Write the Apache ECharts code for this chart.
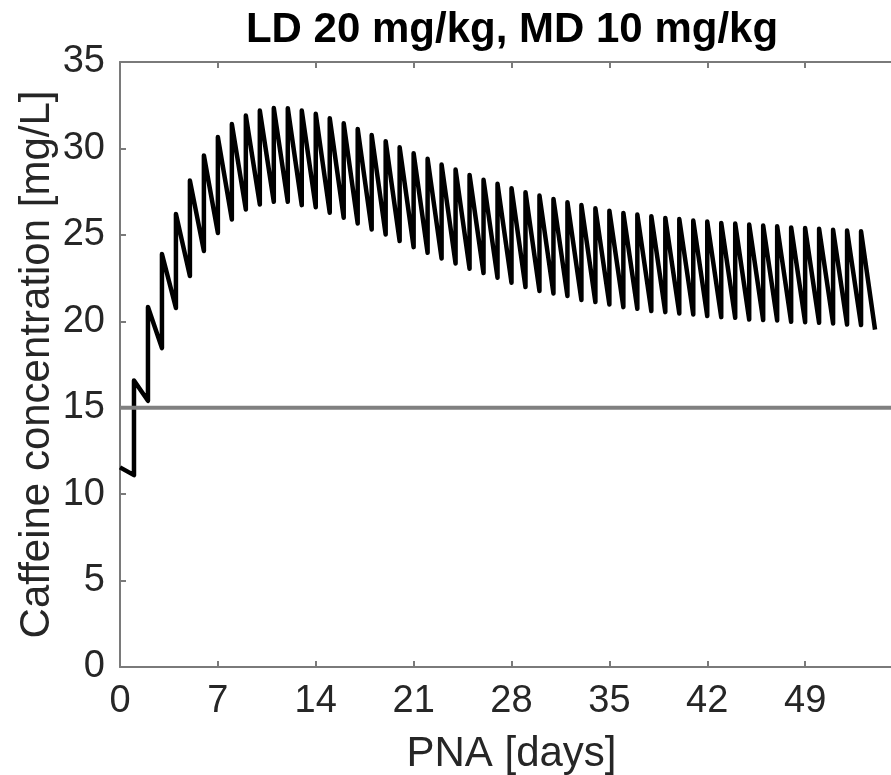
<!DOCTYPE html>
<html>
<head>
<meta charset="utf-8">
<script src="https://cdn.jsdelivr.net/npm/echarts@6/dist/echarts.min.js"></script>
<style>
html,body{margin:0;padding:0;background:#fff;}
#chart{width:891px;height:775px;}
</style>
</head>
<body>
<div id="chart"></div>
<script>
// ---- data ----
const titleText = 'LD 20 mg/kg, MD 10 mg/kg';
const xLabel = 'PNA [days]';
const yLabel = 'Caffeine concentration [mg/L]';
const xTicks = [0, 7, 14, 21, 28, 35, 42, 49, 56];
const yTicks = [0, 5, 10, 15, 20, 25, 30, 35];
const threshold = 15;
const startDay = 0;
const startConc = 11.55;
// dose days (jump times)
const doseDays = [1,2,3,4,5,6,7,8,9,10,11,12,13,14,15,16,17,18,19,20,21,22,23,24,25,26,27,28,29,30,31,32,33,34,35,36,37,38,39,40,41,42,43,44,45,46,47,48,49,50,51,52,53];
// concentration just before each dose
const troughs = [11.1,15.4,18.45,20.77,22.62,24.07,25.11,25.89,26.47,26.76,26.91,26.91,26.72,26.6,26.28,25.99,25.66,25.31,25.02,24.64,24.29,23.96,23.63,23.34,23.04,22.79,22.52,22.23,21.98,21.75,21.61,21.46,21.23,21.11,20.97,20.82,20.72,20.59,20.53,20.45,20.39,20.3,20.24,20.2,20.1,20.07,20.05,19.97,19.95,19.91,19.87,19.81,19.78];
// concentration right after each dose
const peaks = [16.57,20.83,23.89,26.2,28.14,29.59,30.66,31.41,31.9,32.19,32.34,32.33,32.19,32.0,31.75,31.46,31.13,30.78,30.42,30.07,29.72,29.4,29.07,28.78,28.47,28.19,27.95,27.7,27.47,27.28,27.08,26.89,26.73,26.54,26.4,26.27,26.18,26.08,25.98,25.92,25.83,25.77,25.69,25.65,25.6,25.54,25.5,25.43,25.39,25.35,25.29,25.25,25.21];
const endDay = 54;
const endConc = 19.52;

// ---- build series ----
const conc = [[startDay, startConc]];
for (let i = 0; i < doseDays.length; i++) {
  conc.push([doseDays[i], troughs[i]]);
  conc.push([doseDays[i], peaks[i]]);
}
conc.push([endDay, endConc]);
const xMin = xTicks[0], xMax = xTicks[xTicks.length - 1];
const yMin = yTicks[0], yMax = yTicks[yTicks.length - 1];

const FONT = '"Liberation Sans", Arial, Helvetica, sans-serif';
const axisColor = '#7a7a7a';
const textColor = '#262626';

const chart = echarts.init(document.getElementById('chart'), null, {renderer: 'canvas'});
const plotLeft = 120, plotTop = 62, plotWidth = 783, plotHeight = 605;

chart.setOption({
  animation: false,
  backgroundColor: '#fff',
  grid: {left: plotLeft, top: plotTop, width: plotWidth, height: plotHeight, containLabel: false, outerBoundsMode: 'none'},
  graphic: [{
    type: 'text', x: 512, y: 30, z: 10,
    style: {text: titleText, fill: '#000', fontFamily: FONT, fontWeight: 'bold', fontSize: 42, align: 'center', verticalAlign: 'middle'}
  }],
  xAxis: [{
    type: 'value', min: xMin, max: xMax, interval: 7, position: 'bottom',
    axisLine: {show: true, onZero: false, lineStyle: {color: axisColor, width: 2}},
    axisTick: {show: true, inside: true, length: 6, lineStyle: {color: axisColor, width: 2}},
    axisLabel: {show: true, showMaxLabel: false, margin: 16, color: textColor, fontFamily: FONT, fontSize: 38},
    splitLine: {show: false},
    name: xLabel, nameLocation: 'middle', nameGap: 66, nameMoveOverlap: false,
    nameTextStyle: {color: textColor, fontFamily: FONT, fontSize: 42}
  }, {
    type: 'value', min: xMin, max: xMax, interval: 7, position: 'top',
    axisLine: {show: true, onZero: false, lineStyle: {color: axisColor, width: 2}},
    axisTick: {show: true, inside: true, length: 6, lineStyle: {color: axisColor, width: 2}},
    axisLabel: {show: false},
    splitLine: {show: false}
  }],
  yAxis: [{
    type: 'value', min: yMin, max: yMax, interval: 5,
    axisLine: {show: true, onZero: false, lineStyle: {color: axisColor, width: 2}},
    axisTick: {show: true, inside: true, length: 6, lineStyle: {color: axisColor, width: 2}},
    axisLabel: {show: true, margin: 15, color: textColor, fontFamily: FONT, fontSize: 38},
    splitLine: {show: false},
    name: yLabel, nameLocation: 'middle', nameGap: 62, nameMoveOverlap: false,
    nameTextStyle: {color: textColor, fontFamily: FONT, fontSize: 42}
  }],
  series: [{
    type: 'line', data: conc, showSymbol: false, symbol: 'none', clip: true,
    lineStyle: {color: '#000', width: 4.5, join: 'round'}, z: 2
  }, {
    type: 'line', data: [[xMin, threshold], [xMax, threshold]], showSymbol: false, symbol: 'none',
    lineStyle: {color: '#808080', width: 4}, z: 3
  }]
});
</script>
</body>
</html>
